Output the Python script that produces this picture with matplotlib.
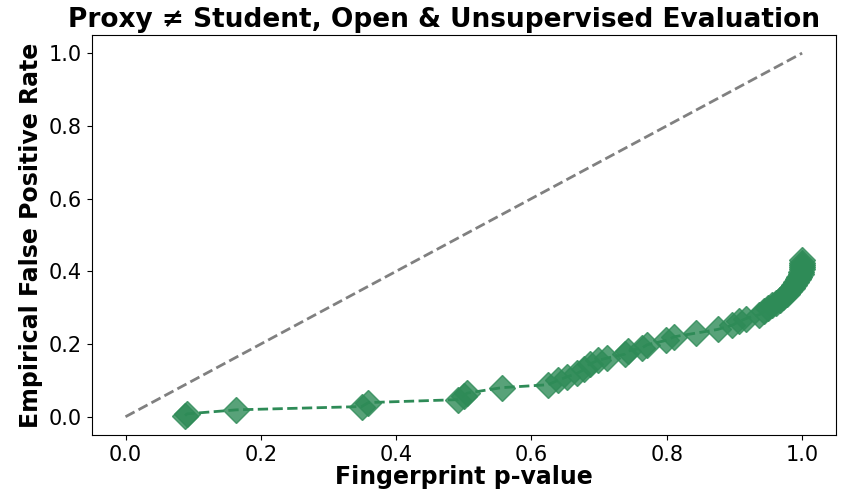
import matplotlib
matplotlib.use("Agg")
import matplotlib.pyplot as plt

# Fingerprint p-value vs. empirical false positive rate
p_values = [0.088, 0.091, 0.164, 0.349, 0.359, 0.491, 0.500, 0.505, 0.556,
            0.624, 0.639, 0.653, 0.667, 0.678, 0.686, 0.698, 0.711, 0.738,
            0.742, 0.764, 0.771, 0.799, 0.811, 0.843, 0.875, 0.897, 0.907,
            0.917, 0.937, 0.944, 0.950, 0.956, 0.962, 0.967, 0.972, 0.977,
            0.981, 0.985, 0.988, 0.991, 0.994, 0.996, 0.998, 0.999, 1.0,
            1.0, 1.0, 1.0, 1.0]
fpr = [0.003, 0.008, 0.019, 0.028, 0.039, 0.047, 0.058, 0.065, 0.080,
       0.088, 0.100, 0.110, 0.119, 0.130, 0.145, 0.155, 0.161, 0.172,
       0.180, 0.190, 0.198, 0.210, 0.220, 0.230, 0.240, 0.252, 0.262,
       0.270, 0.281, 0.290, 0.298, 0.306, 0.314, 0.322, 0.330, 0.338,
       0.346, 0.354, 0.362, 0.370, 0.378, 0.385, 0.392, 0.399, 0.405,
       0.411, 0.417, 0.423, 0.430]
diag = [0.0, 1.0]
ticks = [0.0, 0.2, 0.4, 0.6, 0.8, 1.0]

green = "#2e8b57"

fig, ax = plt.subplots(figsize=(8.41, 4.92), dpi=100)
fig.subplots_adjust(left=0.109, right=0.994, top=0.929, bottom=0.116)

ax.plot(diag, diag, linestyle="--", color="gray", linewidth=2)
ax.plot(p_values, fpr, linestyle="--", color=green, linewidth=2)
ax.plot(p_values, fpr, linestyle="none", color=green,
        marker="D", markersize=13, alpha=0.8)

ax.set_xlim(-0.05, 1.05)
ax.set_ylim(-0.05, 1.05)
ax.set_xticks(ticks)
ax.set_yticks(ticks)
ax.tick_params(labelsize=15)
ax.set_xlabel("Fingerprint p-value", fontsize=17, fontweight="bold",
              labelpad=0)
ax.set_ylabel("Empirical False Positive Rate", fontsize=17, fontweight="bold")
ax.set_title("Proxy \u2260 Student, Open & Unsupervised Evaluation",
             fontsize=19, fontweight="bold", x=0.474)

fig.savefig("out.png", dpi=100)
